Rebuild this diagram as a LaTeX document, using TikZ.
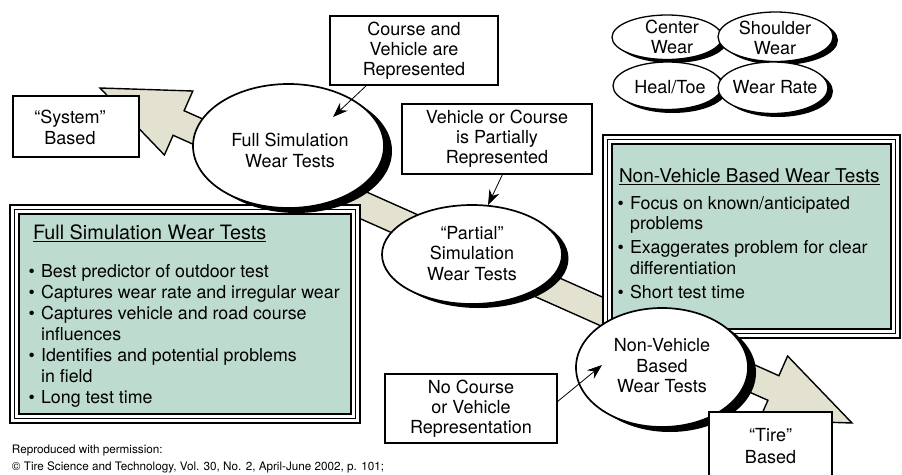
\documentclass[tikz,border=0pt]{standalone}
\usepackage{fontspec}
\setmainfont{TeX Gyre Heros}
\usetikzlibrary{shapes.geometric,arrows.meta,calc}
\definecolor{arrowfill}{RGB}{227,225,208}
\definecolor{boxgreen}{RGB}{190,219,208}
\newcommand\mybul{\makebox[12.6pt][l]{\textbullet}}
\newcommand\myind{\hspace*{12.6pt}}
\begin{document}
\begin{tikzpicture}[x=1pt,y=-1pt,
  every node/.style={inner sep=0pt, outer sep=0pt},
  txt/.style={align=center, font=\fontsize{18}{20.5}\selectfont},
  bigoval/.style={ellipse, draw, line width=1.7pt, fill=white},
  smalloval/.style={ellipse, draw, line width=1.3pt, fill=white},
  ovalshadow/.style={ellipse, fill=black},
  labelbox/.style={rectangle, draw, line width=2.2pt, fill=white, align=center,
     font=\fontsize{18}{20}\selectfont},
  greenframe/.style={rectangle, draw, line width=2.5pt, fill=white},
  conn/.style={line width=0.8pt, -{Stealth[length=15pt, width=11pt, inset=5pt]}},
  listtext/.style={align=left, anchor=north west, font=\fontsize{17.8}{21.1}\selectfont},
  titletext/.style={anchor=base west, font=\fontsize{19.8}{24}\selectfont}
]
\useasboundingbox (0,0) rectangle (902,474);
\clip (0,0) rectangle (902,474);

% big double block arrow
\draw[line width=1.4pt, fill=arrowfill, line join=miter]
  (100,88) -- (192.8,91.0) -- (184.1,110.7) -- (778.9,375.7) -- (787.6,356.0)
  -- (852,423) -- (759.2,420.0) -- (767.9,400.3) -- (173.1,135.3) -- (164.4,155.0) -- cycle;

% left green box
\node[greenframe, minimum width=350pt, minimum height=218pt] (lbox) at (185,314) {};
\draw[line width=0.9pt] ([shift={(4.5,4.5)}]lbox.north west) rectangle ([shift={(-4.5,-4.5)}]lbox.south east);
\draw[line width=2pt, fill=boxgreen] ([shift={(9,9)}]lbox.north west) rectangle ([shift={(-9,-9)}]lbox.south east);
\node[titletext] (ltitle) at (33,239.5) {Full Simulation Wear Tests};
\draw[line width=0.9pt] ([yshift=-2pt]ltitle.base west) -- ([yshift=-2pt]ltitle.base east);
\node[listtext] (llist) at (28.5,264.3) {%
\mybul Best predictor of outdoor test\\
\mybul Captures wear rate and irregular wear\\
\mybul Captures vehicle and road course\\
\myind influences\\
\mybul Identifies and potential problems\\
\myind in field\\
\mybul Long test time};

% right green box
\node[greenframe, minimum width=297pt, minimum height=203pt] (rbox) at (751.5,236.5) {};
\draw[line width=0.9pt] ([shift={(4.5,4.5)}]rbox.north west) rectangle ([shift={(-4.5,-4.5)}]rbox.south east);
\draw[line width=2pt, fill=boxgreen] ([shift={(9,9)}]rbox.north west) rectangle ([shift={(-9,-9)}]rbox.south east);
\node[titletext, font=\fontsize{19}{23}\selectfont] (rtitle) at (619,182.7) {Non-Vehicle Based Wear Tests};
\draw[line width=0.9pt] ([yshift=-2pt]rtitle.base west) -- ([yshift=-2pt]rtitle.base east);
\node[listtext, font=\fontsize{17.8}{20.5}\selectfont] (rlist) at (617.5,196.5) {%
\mybul Focus on known/anticipated\\
\myind problems\\[3.5pt]
\mybul Exaggerates problem for clear\\
\myind differentiation\\[3.5pt]
\mybul Short test time};

% large ellipses (with black offset shadows)
\node[ovalshadow, minimum width=191pt, minimum height=124pt] (fssh) at (296.5,151) {};
\node[bigoval, minimum width=191pt, minimum height=124pt] (fs) at (288.5,146) {};
\node[txt] (fst) at (290,150.5) {Full Simulation\\Wear Tests};
\node[ovalshadow, minimum width=180pt, minimum height=99pt] (ptsh) at (478.5,258.5) {};
\node[bigoval, minimum width=180pt, minimum height=99pt] (pt) at (472,254.5) {};
\node[txt] (ptt) at (472,253.5) {``Partial''\\Simulation\\Wear Tests};
\node[ovalshadow, minimum width=172pt, minimum height=119pt] (nvsh) at (670,372.5) {};
\node[bigoval, minimum width=172pt, minimum height=119pt] (nv) at (662,367.5) {};
\node[txt] (nvt) at (662,366) {Non-Vehicle\\Based\\Wear Tests};

% small ellipses
\node[ovalshadow, minimum width=110pt, minimum height=44.5pt] (cwsh) at (672,40.75) {};
\node[smalloval, minimum width=110pt, minimum height=44.5pt] (cw) at (667,37.25) {};
\node[ovalshadow, minimum width=115pt, minimum height=49.5pt] (swsh) at (780.5,40.25) {};
\node[smalloval, minimum width=115pt, minimum height=49.5pt] (sw) at (775.5,36.75) {};
\node[ovalshadow, minimum width=109pt, minimum height=47.5pt] (htsh) at (672.5,89.25) {};
\node[smalloval, minimum width=109pt, minimum height=47.5pt] (ht) at (667.5,85.75) {};
\node[ovalshadow, minimum width=110pt, minimum height=51.5pt] (wrsh) at (778,91.25) {};
\node[smalloval, minimum width=110pt, minimum height=51.5pt] (wr) at (773,87.75) {};
\node[txt, font=\fontsize{18}{20}\selectfont] (cwt) at (672,37) {Center\\Wear};
\node[txt, font=\fontsize{18}{20}\selectfont] (swt) at (775,38) {Shoulder\\Wear};
\node[txt] (htt) at (670,87) {Heal/Toe};
\node[txt] (wrt) at (775,87) {Wear Rate};

% label boxes
\node[labelbox, minimum width=168pt, minimum height=69pt] (cv) at (414,50.5) {Course and\\Vehicle are\\Represented};
\node[labelbox, minimum width=190pt, minimum height=70pt] (vc) at (497,139) {Vehicle or Course\\is Partially\\Represented};
\node[labelbox, minimum width=172pt, minimum height=69pt] (nc) at (471,408.5) {No Course\\or Vehicle\\Representation};
\node[labelbox, minimum width=126pt, minimum height=61pt] (sb) at (76,126.5) {};
\node[txt, font=\fontsize{18}{21}\selectfont] (sbt) at (70,127.5) {``System''\\Based};
\node[labelbox, minimum width=123pt, minimum height=68pt, font=\fontsize{18}{22}\selectfont] (tb) at (770.5,446) {``Tire''\\Based};

% connectors
\draw[conn] ($(cv.south west)!0.22!(cv.south east)$) -- ([shift={(44.5,-29)}]fs.center);
\draw[conn] ($(vc.south west)!0.53!(vc.south east)$) -- ([shift={(16,-49.5)}]pt.center);
\draw[conn] ([shift={(0,-6.5)}]nc.east) -- ([shift={(-60,-2.5)}]nv.center);

% footer
\node[align=left, anchor=north west, font=\fontsize{11.7}{16.7}\selectfont] (foot) at (12,445.3)
 {Reproduced with permission:\\\textcopyright{} Tire Science and Technology, Vol. 30, No. 2, April-June 2002, p. 101;};
\end{tikzpicture}
\end{document}
